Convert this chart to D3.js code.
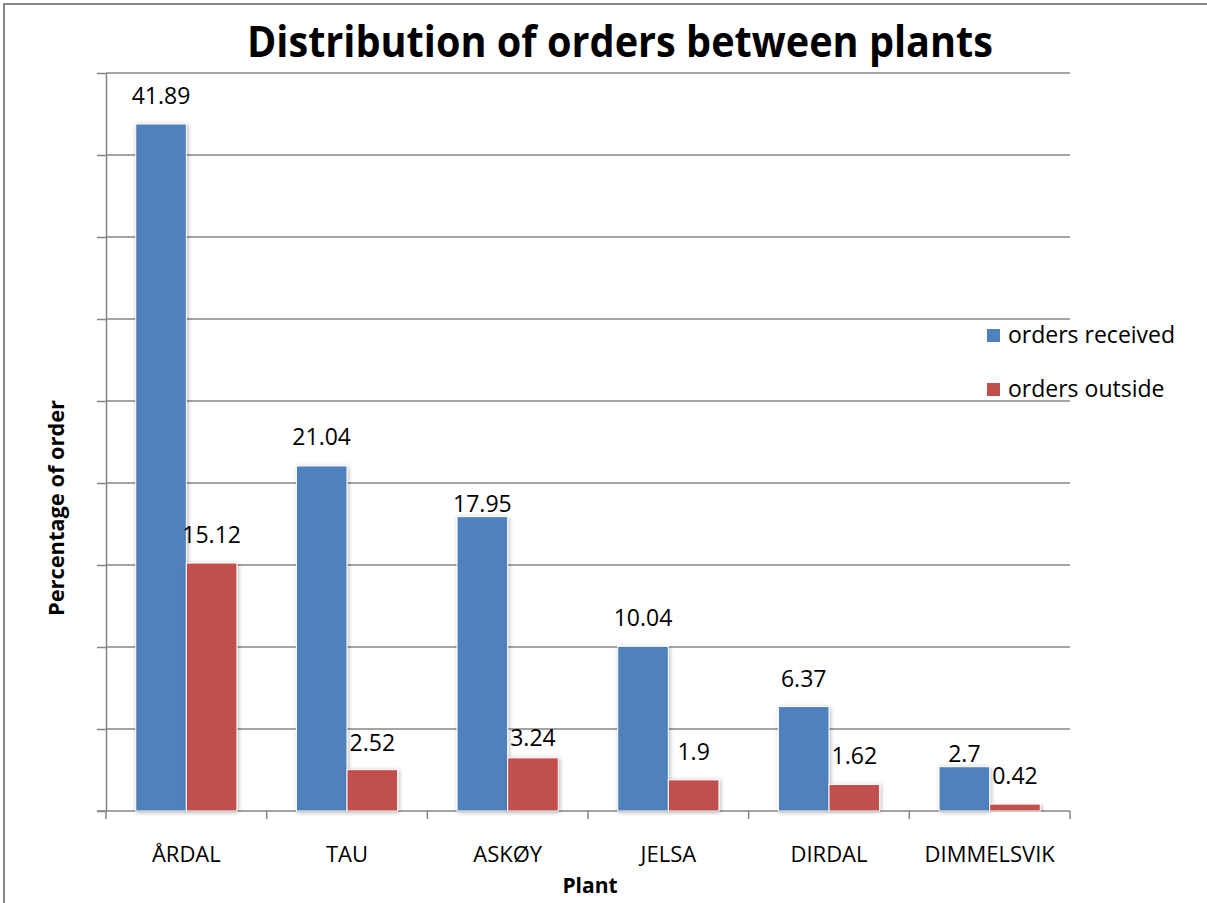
<!DOCTYPE html>
<html>
<head>
<meta charset="utf-8">
<script src="https://cdn.jsdelivr.net/npm/d3@7"></script>
<style>
  body { margin: 0; background: #fff; }
  svg { display: block; }
  text { font-family: "Open Sans", sans-serif; fill: #000; }
</style>
</head>
<body>
<svg id="chart" width="1207" height="903"></svg>
<script>
const plants = ['ÅRDAL', 'TAU', 'ASKØY', 'JELSA', 'DIRDAL', 'DIMMELSVIK']
const ordersReceived = [41.89, 21.04, 17.95, 10.04, 6.37, 2.7]
const ordersOutside = [15.12, 2.52, 3.24, 1.9, 1.62, 0.42]
const seriesNames = ['orders received', 'orders outside']
const yTicks = [0, 5, 10, 15, 20, 25, 30, 35, 40, 45]

const colors = ['#4f81bd', '#c0504d']
// gap between label baseline and bar top; excel nudged a few labels down
const labelGaps = [[20, 21, 5, 20, 20, 5], [20, 19, 12, 20, 20, 20]]

const plot = { left: 106, right: 1070, top: 73, bottom: 811 }
const gridColor = '#868686'

const svg = d3.select('#chart')

const defs = svg.append('defs')
const shadow = defs.append('filter').attr('id', 'shadow')
	.attr('x', '-30%').attr('y', '-10%').attr('width', '160%').attr('height', '120%')
shadow.append('feDropShadow')
	.attr('dx', 1).attr('dy', 1).attr('stdDeviation', 2.2)
	.attr('flood-color', '#000').attr('flood-opacity', 0.3)

// outer frame (right/bottom edges fall off the picture)
svg.append('rect')
	.attr('x', 4).attr('y', 4).attr('width', 1220).attr('height', 920)
	.attr('fill', 'none').attr('stroke', gridColor).attr('stroke-width', 2)

const series = [ordersReceived, ordersOutside]

const x0 = d3.scaleBand().domain(plants)
	.range([plot.left, plot.right]).paddingInner(0.37).paddingOuter(0.185)
const x1 = d3.scaleBand().domain([0, 1]).range([0, x0.bandwidth()])
const y = d3.scaleLinear().domain([0, 45]).range([plot.bottom, plot.top])

// gridlines
svg.append('g').selectAll('line').data(yTicks.slice(1))
	.enter().append('line')
	.attr('x1', plot.left).attr('x2', plot.right)
	.attr('y1', d => y(d)).attr('y2', d => y(d))
	.attr('stroke', gridColor).attr('stroke-width', 1.5)

// y axis with ticks but no labels
const yAxis = svg.append('g').attr('transform', `translate(${plot.left},0)`)
	.call(d3.axisLeft(y).tickValues(yTicks).tickSize(9).tickSizeOuter(0).tickFormat(''))
yAxis.selectAll('path, line').attr('stroke', gridColor).attr('stroke-width', 1.5)

// x baseline + category separator ticks
const step = x0.step()
svg.append('line')
	.attr('x1', plot.left - 9).attr('x2', plot.right)
	.attr('y1', y(0)).attr('y2', y(0))
	.attr('stroke', gridColor).attr('stroke-width', 1.5)
svg.append('g').selectAll('line').data(d3.range(plants.length + 1))
	.enter().append('line')
	.attr('x1', i => plot.left + i * step).attr('x2', i => plot.left + i * step)
	.attr('y1', y(0)).attr('y2', y(0) + 8)
	.attr('stroke', gridColor).attr('stroke-width', 1.5)

// bars
series.forEach((vals, s) => {
	svg.append('g').selectAll('rect').data(vals)
		.enter().append('rect')
		.attr('x', (d, i) => x0(plants[i]) + x1(s))
		.attr('width', x1.bandwidth())
		.attr('y', d => y(d))
		.attr('height', d => y(0) - y(d))
		.attr('fill', colors[s])
		.attr('stroke', '#fff').attr('stroke-width', 1)
		.attr('filter', 'url(#shadow)')
})

// value labels
series.forEach((vals, s) => {
	svg.append('g').selectAll('text').data(vals)
		.enter().append('text')
		.attr('x', (d, i) => x0(plants[i]) + x1(s) + x1.bandwidth() / 2)
		.attr('y', (d, i) => y(d) - labelGaps[s][i])
		.attr('text-anchor', 'middle')
		.style('font-size', '23px')
		.text(d => d)
})

// category labels
svg.append('g').selectAll('text').data(plants)
	.enter().append('text')
	.attr('x', d => x0(d) + x0.bandwidth() / 2)
	.attr('y', 862)
	.attr('text-anchor', 'middle')
	.style('font-size', '22px')
	.text(d => d)

// titles
svg.append('text')
	.attr('x', 620).attr('y', 57)
	.attr('text-anchor', 'middle')
	.attr('textLength', 746).attr('lengthAdjust', 'spacingAndGlyphs')
	.style('font-size', '43px').style('font-weight', 'bold')
	.text('Distribution of orders between plants')

svg.append('text')
	.attr('x', 590).attr('y', 893)
	.attr('text-anchor', 'middle')
	.style('font-size', '21px').style('font-weight', 'bold')
	.text('Plant')

svg.append('text')
	.attr('transform', 'translate(64,508) rotate(-90)')
	.attr('text-anchor', 'middle')
	.attr('textLength', 216).attr('lengthAdjust', 'spacingAndGlyphs')
	.style('font-size', '21px').style('font-weight', 'bold')
	.text('Percentage of order')

// legend
const legend = svg.append('g').selectAll('g').data(seriesNames)
	.enter().append('g')
	.attr('transform', (d, i) => `translate(987,${329 + i * 54})`)
legend.append('rect')
	.attr('width', 13).attr('height', 13)
	.attr('fill', (d, i) => colors[i])
legend.append('text')
	.attr('x', 21).attr('y', 14)
	.style('font-size', '23px')
	.text(d => d)
</script>
</body>
</html>
